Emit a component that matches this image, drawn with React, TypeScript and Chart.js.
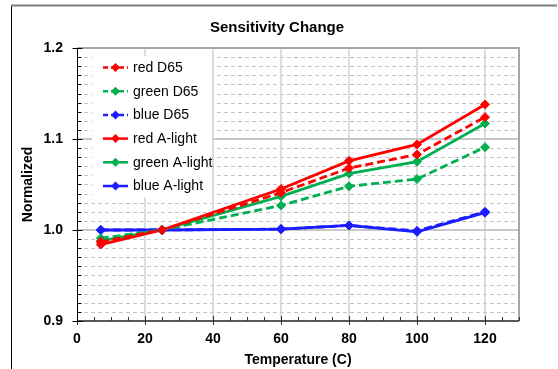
import React, { useEffect, useRef } from 'react';
import { Chart, registerables } from 'chart.js';

Chart.register(...registerables);

// ---- Data ----
const temperatures = [7, 25, 60, 80, 100, 120];
const redD65 = [0.987, 1.0, 1.041, 1.068, 1.083, 1.124];
const greenD65 = [0.991, 1.0, 1.027, 1.048, 1.056, 1.091];
const blueD65 = [1.0, 1.0, 1.001, 1.005, 0.999, 1.02];
const redA = [0.984, 1.0, 1.045, 1.076, 1.094, 1.138];
const greenA = [0.988, 1.0, 1.037, 1.062, 1.075, 1.117];
const blueA = [1.0, 1.0, 1.001, 1.005, 0.998, 1.019];
const seriesLabels = ['red D65', 'green D65', 'blue D65', 'red A-light', 'green A-light', 'blue A-light'];
const chartTitle = 'Sensitivity Change';
const xTitle = 'Temperature (C)';
const yTitle = 'Normalized';

const RED = '#ff0000';
const GREEN = '#00b050';
const BLUE = '#1c1cff';
const FONT = '"Liberation Sans", Arial, sans-serif';

const seriesValues = [redD65, greenD65, blueD65, redA, greenA, blueA];
const seriesColors = [RED, GREEN, BLUE, RED, GREEN, BLUE];
const seriesDashed = [true, true, true, false, false, false];
const DASH = [8, 4];

function diamond(ctx: CanvasRenderingContext2D, x: number, y: number, r: number, color: string) {
  ctx.save();
  ctx.setLineDash([]);
  ctx.fillStyle = color;
  ctx.beginPath();
  ctx.moveTo(x, y - r);
  ctx.lineTo(x + r, y);
  ctx.lineTo(x, y + r);
  ctx.lineTo(x - r, y);
  ctx.closePath();
  ctx.fill();
  ctx.restore();
}

const decorPlugin = {
  id: 'decor',
  beforeDraw(chart: any) {
    const ctx = chart.ctx as CanvasRenderingContext2D;
    ctx.save();
    // outer frame (left + top)
    ctx.strokeStyle = '#000';
    ctx.lineWidth = 1;
    ctx.beginPath();
    ctx.moveTo(11.5, 5);
    ctx.lineTo(11.5, 369);
    ctx.stroke();
    ctx.strokeStyle = '#7f7f7f';
    ctx.lineWidth = 2;
    ctx.beginPath();
    ctx.moveTo(11, 5.5);
    ctx.lineTo(557, 5.5);
    ctx.stroke();
    // title
    ctx.fillStyle = '#000';
    ctx.font = `bold 15px ${FONT}`;
    ctx.textAlign = 'center';
    ctx.textBaseline = 'middle';
    ctx.fillText(chartTitle, 277, 28);
    ctx.restore();
  },
  beforeDatasetsDraw(chart: any) {
    const ctx = chart.ctx as CanvasRenderingContext2D;
    const a = chart.chartArea;
    const x = chart.scales.x;
    const y = chart.scales.y;
    ctx.save();
    // minor horizontal dashed grid
    ctx.strokeStyle = '#c4c4c4';
    ctx.lineWidth = 1;
    ctx.setLineDash([4, 3]);
    for (let i = 1; i < 30; i++) {
      if (i % 10 === 0) continue;
      const py = Math.round(y.getPixelForValue(0.9 + i * 0.01)) + 0.5;
      ctx.beginPath();
      ctx.moveTo(a.left, py);
      ctx.lineTo(a.right, py);
      ctx.stroke();
    }
    ctx.setLineDash([]);
    // vertical major grid
    ctx.strokeStyle = '#d2d2d2';
    ctx.lineWidth = 1.5;
    for (let v = 20; v <= 120; v += 20) {
      const px = x.getPixelForValue(v);
      ctx.beginPath();
      ctx.moveTo(px, a.top);
      ctx.lineTo(px, a.bottom);
      ctx.stroke();
    }
    // horizontal major grid
    ctx.strokeStyle = '#c8c8c8';
    ctx.lineWidth = 2;
    for (const v of [1.0, 1.1]) {
      const py = y.getPixelForValue(v);
      ctx.beginPath();
      ctx.moveTo(a.left, py);
      ctx.lineTo(a.right, py);
      ctx.stroke();
    }
    // top & right border
    ctx.strokeStyle = '#a6a6a6';
    ctx.lineWidth = 2;
    ctx.beginPath();
    ctx.moveTo(a.left, a.top);
    ctx.lineTo(a.right, a.top);
    ctx.lineTo(a.right, a.bottom);
    ctx.stroke();
    // bottom axis
    ctx.strokeStyle = '#595959';
    ctx.lineWidth = 2;
    ctx.beginPath();
    ctx.moveTo(a.left, a.bottom);
    ctx.lineTo(a.right, a.bottom);
    ctx.stroke();
    // x ticks
    ctx.lineWidth = 1;
    ctx.strokeStyle = '#333';
    for (let v = 0; v <= 130; v += 5) {
      const px = Math.round(x.getPixelForValue(v)) + 0.5;
      ctx.beginPath();
      if (v % 20 === 0) {
        ctx.moveTo(px, a.bottom - 5);
        ctx.lineTo(px, a.bottom + 4);
      } else {
        ctx.moveTo(px, a.bottom - 4);
        ctx.lineTo(px, a.bottom);
      }
      ctx.stroke();
    }
    // left axis
    ctx.strokeStyle = '#000';
    ctx.lineWidth = 1;
    const lx = a.left + 0.5;
    ctx.beginPath();
    ctx.moveTo(lx, a.top);
    ctx.lineTo(lx, a.bottom + 1);
    ctx.stroke();
    // y ticks
    for (let i = 0; i <= 30; i++) {
      const py = Math.round(y.getPixelForValue(0.9 + i * 0.01)) + 0.5;
      ctx.beginPath();
      if (i % 10 === 0) {
        ctx.moveTo(lx - 5, py);
        ctx.lineTo(lx + 5, py);
      } else {
        ctx.moveTo(lx, py);
        ctx.lineTo(lx + 4, py);
      }
      ctx.stroke();
    }
    ctx.restore();
  },
  afterDatasetsDraw(chart: any) {
    const ctx = chart.ctx as CanvasRenderingContext2D;
    ctx.save();
    ctx.fillStyle = '#fff';
    ctx.fillRect(92, 56, 120, 141);
    ctx.font = `14px ${FONT}`;
    ctx.textAlign = 'left';
    ctx.textBaseline = 'middle';
    chart.data.datasets.forEach((ds: any, i: number) => {
      const cy = 67.5 + i * 23.7;
      ctx.strokeStyle = ds.borderColor;
      ctx.lineWidth = 2.5;
      ctx.setLineDash(ds.borderDash && ds.borderDash.length ? [5, 3] : []);
      ctx.beginPath();
      ctx.moveTo(103, cy);
      ctx.lineTo(128, cy);
      ctx.stroke();
      ctx.setLineDash([]);
      diamond(ctx, 115.5, cy, 4.5, ds.borderColor);
      ctx.fillStyle = '#000';
      ctx.fillText(ds.label, 133, cy + 0.5);
    });
    ctx.restore();
  },
};

export default function App() {
  const canvasRef = useRef<HTMLCanvasElement | null>(null);

  useEffect(() => {
    if (!canvasRef.current) return;
    Chart.defaults.font.family = FONT;
    const datasets = seriesLabels.map((label, i) => ({
      label,
      data: temperatures.map((t, j) => ({ x: t, y: seriesValues[i][j] })),
      borderColor: seriesColors[i],
      backgroundColor: seriesColors[i],
      pointBackgroundColor: seriesColors[i],
      pointBorderColor: seriesColors[i],
      borderWidth: 2.8,
      borderDash: seriesDashed[i] ? DASH : [],
      pointStyle: 'rectRot',
      pointRadius: 4.5,
      pointBorderWidth: 1,
      tension: 0,
      fill: false,
    }));
    const chart = new Chart(canvasRef.current, {
      type: 'line',
      data: { datasets },
      plugins: [decorPlugin],
      options: {
        animation: false,
        responsive: false,
        devicePixelRatio: 1,
        layout: { padding: { left: 0, right: 39, top: 48, bottom: 0 } },
        plugins: {
          legend: { display: false },
          title: { display: false },
          tooltip: { enabled: false },
        },
        scales: {
          x: {
            type: 'linear',
            min: 0,
            max: 130,
            grid: { display: false, drawTicks: false },
            border: { display: false },
            ticks: {
              stepSize: 20,
              includeBounds: false,
              padding: 10,
              color: '#000',
              font: { size: 14, weight: 'bold' },
              maxRotation: 0,
              callback: (v: any) => (Number(v) % 20 === 0 ? String(v) : ''),
            },
            title: {
              display: true,
              text: xTitle,
              color: '#000',
              font: { size: 14, weight: 'bold' },
              padding: { top: 4, bottom: 0 },
            },
            afterFit: (s: any) => {
              s.height = 48;
            },
          },
          y: {
            type: 'linear',
            min: 0.9,
            max: 1.2,
            grid: { display: false, drawTicks: false },
            border: { display: false },
            ticks: {
              stepSize: 0.1,
              padding: 14,
              color: '#000',
              font: { size: 14, weight: 'bold' },
              callback: (v: any) => Number(v).toFixed(1),
            },
            title: {
              display: true,
              text: yTitle,
              color: '#000',
              font: { size: 14, weight: 'bold' },
              padding: { top: 20, bottom: 0 },
            },
            afterFit: (s: any) => {
              s.width = 77;
            },
          },
        },
      } as any,
    });
    return () => chart.destroy();
  }, []);

  return (
    <div style={{ position: 'fixed', left: 0, top: 0, width: 558, height: 369, background: '#fff' }}>
      <canvas ref={canvasRef} width={558} height={369} style={{ display: 'block' }} />
    </div>
  );
}
